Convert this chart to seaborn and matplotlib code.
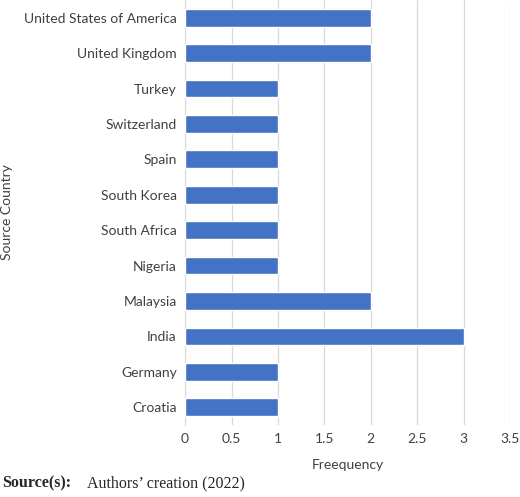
import matplotlib
matplotlib.use("Agg")
import matplotlib.pyplot as plt
import seaborn as sns
import pandas as pd

countries = ["United States of America", "United Kingdom", "Turkey", "Switzerland", "Spain",
             "South Korea", "South Africa", "Nigeria", "Malaysia", "India", "Germany", "Croatia"]
freq = [2, 2, 1, 1, 1, 1, 1, 1, 2, 3, 1, 1]
xticks = [0, 0.5, 1, 1.5, 2, 2.5, 3, 3.5]

sns.set_style("white")
plt.rcParams['font.family'] = ['Lato', 'DejaVu Sans']
df = pd.DataFrame({"country": countries, "freq": freq})

fig = plt.figure(figsize=(5.2, 4.97), dpi=100)
ax = fig.add_axes([0.356, 0.145, 0.625, 0.855])
sns.barplot(data=df, x="freq", y="country", color="#4472C4", saturation=1, width=0.5, ax=ax, zorder=3)
ax.set_xlim(0, 3.5)
ax.set_xticks(xticks)
ax.set_xticklabels([f"{t:g}" for t in xticks])
ax.grid(axis="x", color="#d9d9d9", lw=0.9, zorder=0)
for s in ["top", "right", "bottom"]:
    ax.spines[s].set_visible(False)
ax.spines["left"].set_color("#d9d9d9")
ax.tick_params(axis="both", length=0, labelsize=10, colors="#404040", pad=6)
ax.set_xlabel("Freequency", fontsize=10, color="#404040", labelpad=10)
ax.set_ylabel("Source Country", fontsize=10, color="#404040", labelpad=8)
fig.text(0.005, 0.02, "Source(s):", fontsize=11.5, fontweight="bold", family="Liberation Serif")
fig.text(0.168, 0.02, "Authors\u2019 creation (2022)", fontsize=11.5, family="Liberation Serif")
fig.savefig("out.png", dpi=100)
